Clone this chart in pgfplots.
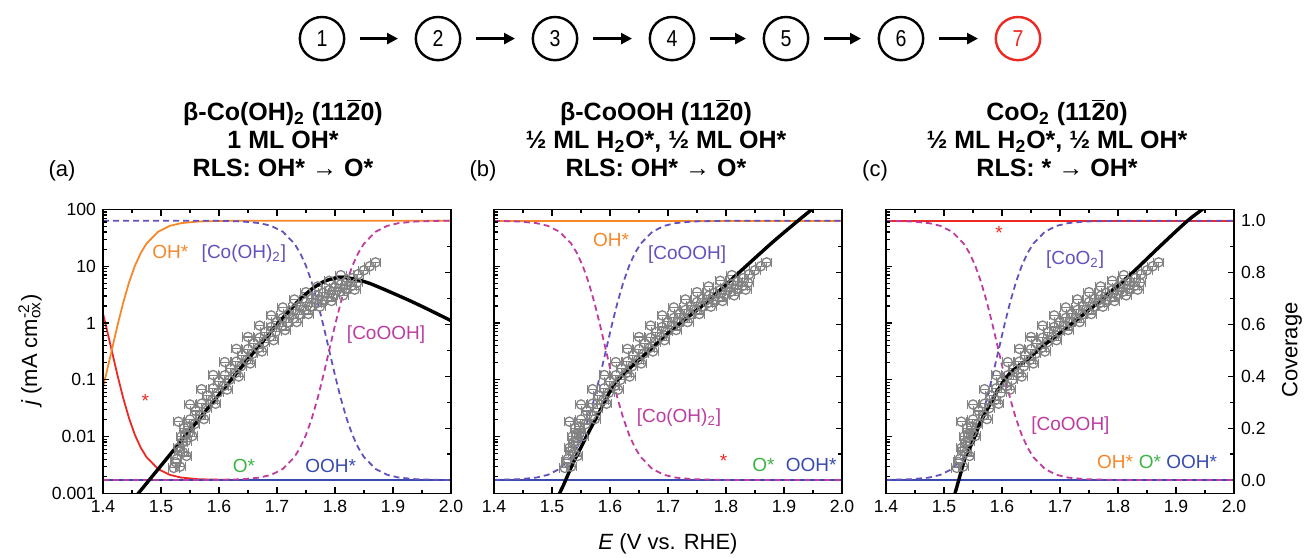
\documentclass[border=0pt]{standalone}
\usepackage{fontspec}
\setmainfont{Liberation Sans}
\newfontfamily\numfont[FakeStretch=0.85]{Liberation Sans}
\usepackage{pgfplots}
\usepackage{pgfplotstable}
\pgfplotsset{compat=1.18}
\usetikzlibrary{arrows.meta}

\definecolor{cOrange}{RGB}{247,135,40}
\definecolor{cRed}{RGB}{237,41,36}
\definecolor{cGreen}{RGB}{60,180,70}
\definecolor{cBlue}{RGB}{55,75,175}
\definecolor{cViolet}{RGB}{100,80,190}
\definecolor{cMag}{RGB}{190,60,160}
\definecolor{cGrey}{RGB}{130,130,130}
\newcommand\labfont{\fontsize{9.5}{11}\selectfont}

% experimental data (E in V vs RHE, j in mA cm^-2)
\pgfplotstableread{
E j
1.525 0.00355
1.530 0.00631
1.535 0.0100
1.540 0.0141
1.550 0.0200
1.560 0.0282
1.570 0.0380
1.580 0.0525
1.590 0.0708
1.600 0.0933
1.610 0.120
1.620 0.158
1.630 0.209
1.640 0.269
1.650 0.347
1.660 0.437
1.670 0.550
1.680 0.692
1.690 0.851
1.700 1.047
1.710 1.23
1.720 1.445
1.730 1.70
1.740 2.00
1.750 2.34
1.760 2.69
1.770 3.02
1.780 3.39
1.790 3.80
1.800 4.27
1.810 4.79
1.820 5.37
1.830 6.17
1.840 7.24
1.850 8.51
1.860 10.0
1.870 11.7
}\expA
\pgfplotstableread{
E j
1.533 0.00295
1.538 0.00524
1.543 0.0083
1.548 0.0117
1.558 0.0166
1.568 0.0234
1.578 0.0316
1.588 0.0436
1.598 0.0588
1.608 0.0775
1.618 0.0996
1.628 0.131
1.638 0.173
1.648 0.223
1.658 0.288
1.668 0.363
1.678 0.457
1.688 0.574
1.698 0.706
1.708 0.869
1.718 1.02
1.728 1.20
1.738 1.41
1.748 1.66
1.758 1.94
1.768 2.23
1.778 2.51
1.788 2.81
1.798 3.15
1.808 3.54
1.818 3.98
1.828 4.46
1.838 5.12
}\expB
\pgfplotstableread{
E j
1.522 0.0028
1.527 0.0040
1.532 0.0056
1.537 0.0079
1.542 0.0112
1.547 0.0150
1.530 0.0183
1.550 0.0367
1.570 0.0683
1.590 0.121
1.610 0.205
1.630 0.350
1.650 0.568
1.670 0.900
1.690 1.361
1.710 1.88
1.730 2.60
1.750 3.50
1.770 4.41
1.790 5.55
1.810 6.98
}\expC
\pgfplotstableread{
E j
1.544 0.00454
1.554 0.0102
1.574 0.0203
1.594 0.0378
1.614 0.0672
1.634 0.114
1.654 0.194
1.674 0.315
1.694 0.498
1.714 0.754
1.734 1.040
1.754 1.44
1.774 1.94
1.794 2.44
1.814 3.07
1.834 3.87
}\expD

% model current densities
\pgfplotstableread{
E j
1.455 0.00084
1.46 0.000971
1.50 0.003073
1.55 0.01296
1.60 0.05464
1.65 0.2304
1.70 0.937
1.72 1.600
1.74 2.618
1.76 3.963
1.78 5.33
1.80 6.19
1.82 6.27
1.84 5.75
1.86 4.98
1.88 4.10
1.90 3.35
1.93 2.45
1.96 1.75
2.00 1.10
}\modelA
\pgfplotstableread{
E j
1.510 0.00080
1.513 0.00100
1.520 0.00141
1.536 0.00335
1.550 0.00646
1.565 0.01297
1.580 0.0251
1.6046 0.0755
1.620 0.1175
1.650 0.224
1.680 0.427
1.707 0.759
1.7646 2.249
1.8217 7.62
1.879 25.8
1.922 60.7
1.955 115
}\modelB
\pgfplotstableread{
E j
1.516 0.00080
1.519 0.00100
1.527 0.00195
1.537 0.00437
1.550 0.0083
1.562 0.0170
1.580 0.0380
1.5966 0.0755
1.615 0.135
1.6426 0.224
1.670 0.389
1.700 0.664
1.7575 1.959
1.815 6.21
1.8724 22.5
1.921 64.7
1.955 118
}\modelC

\pgfplotsset{
  mypanel/.style={scale only axis, width=174pt, height=141.9pt,
    xmin=1.4, xmax=2.0, tick align=inside,
    major tick length=3.2pt, minor tick length=1.8pt,
    every tick/.style={black, line width=0.6pt},
    axis line style={line width=0.8pt},
    tick label style={font=\fontsize{8.8}{10}\selectfont}},
  mylogticks/.style={
    ytick={0.001,0.01,0.1,1,10,100},
    minor ytick={0.002,0.003,0.004,0.005,0.006,0.007,0.008,0.009,0.02,0.03,0.04,0.05,0.06,0.07,0.08,0.09,0.2,0.3,0.4,0.5,0.6,0.7,0.8,0.9,2,3,4,5,6,7,8,9,20,30,40,50,60,70,80,90},
    ytick pos=left,
    xtick={1.4,1.5,1.6,1.7,1.8,1.9,2.0},
    xticklabels={1.4,1.5,1.6,1.7,1.8,1.9,2.0},
    minor xtick={1.45,1.55,1.65,1.75,1.85,1.95}},
  mycov/.style={ymin=-0.0513, ymax=1.0432,
    axis y line*=right, axis x line=none,
    ytick={0,0.2,0.4,0.6,0.8,1.0}, minor ytick={0.1,0.3,0.5,0.7,0.9}},
}
\newcommand\expplot[1]{\addplot[only marks, mark=o, mark size=2.3pt, cGrey, mark options={line width=0.65pt, solid}, error bars/.cd, x dir=both, x fixed=0.009, error bar style={line width=0.55pt, cGrey}] table {#1};}

\begin{document}
\begin{tikzpicture}
\useasboundingbox (0,0) rectangle (653pt,278.5pt);

% reaction step scheme
\foreach \x/\n in {161/1,219/2,277.5/3,336/4,393/5,450.5/6}{
  \draw[line width=1.2pt] (\x pt,259.2pt) ellipse [x radius=11.1pt, y radius=10.8pt];
  \node[font=\numfont\fontsize{11.5}{13}\selectfont] at (\x pt,259.2pt) {\n};
}
\draw[line width=1.2pt, cRed] (509pt,259.2pt) ellipse [x radius=11.1pt, y radius=10.8pt];
\node[font=\numfont\fontsize{11.5}{13}\selectfont, text=cRed] at (509pt,259.2pt) {7};
\foreach \a/\b in {161/219,219/277.5,277.5/336,336/393,393/450.5,450.5/509}{
  \draw[line width=1.3pt, -{Triangle[length=5.5pt,width=5.5pt]}] (\a pt+19pt,259.2pt) -- (\b pt-20pt,259.2pt);
}

% titles
\begin{scope}[every node/.style={font=\bfseries\fontsize{12.5}{14}\selectfont, anchor=base}]
\node at (141.5pt,218pt) {β-Co(OH)\textsubscript{2} (11$\overline{\mbox{2}}$0)};
\node at (141.5pt,204pt) {1 ML OH*};
\node at (141.5pt,190pt) {RLS: OH* → O*};
\node at (328pt,218pt) {β-CoOOH (11$\overline{\mbox{2}}$0)};
\node at (328pt,204pt) {½ ML H\textsubscript{2}O*, ½ ML OH*};
\node at (328pt,190pt) {RLS: OH* → O*};
\node at (528.5pt,218pt) {CoO\textsubscript{2} (11$\overline{\mbox{2}}$0)};
\node at (528.5pt,204pt) {½ ML H\textsubscript{2}O*, ½ ML OH*};
\node at (528.5pt,190pt) {RLS: * → OH*};
\end{scope}
\node[font=\fontsize{11}{13}\selectfont, anchor=base] at (31pt,190pt) {(a)};
\node[font=\fontsize{11}{13}\selectfont, anchor=base] at (241.5pt,190pt) {(b)};
\node[font=\fontsize{11}{13}\selectfont, anchor=base] at (437.5pt,190pt) {(c)};

% axis labels
\node[rotate=90, font=\fontsize{11}{13}\selectfont] at (15pt,103.5pt) {\textit{j} (mA cm\rlap{\textsuperscript{-2}}\textsubscript{ox})};
\node[font=\fontsize{11}{13}\selectfont] at (334pt,6.5pt) {\textit{E} (V vs. RHE)};
\node[rotate=90, font=\fontsize{11}{13}\selectfont] at (646pt,103.5pt) {Coverage};

%%%%%%%% panel (a)
\begin{axis}[mypanel, mycov, at={(51.5pt,31.85pt)}, anchor=south west, yticklabels={,,,,,}]
\addplot[line width=0.9pt, cRed] coordinates {(1.4,0.642)(1.405,0.5961)(1.415,0.5)(1.425,0.4039)(1.435,0.3147)(1.445,0.2375)(1.455,0.174)(1.465,0.125)(1.475,0.0883)(1.495,0.0426)(1.515,0.02)(1.535,0.0093)(1.565,0.0029)(1.615,0.0004)(1.7,0)(2.0,0)};
\addplot[line width=0.9pt, cOrange] coordinates {(1.4,0.358)(1.405,0.4039)(1.415,0.5)(1.425,0.5961)(1.435,0.6853)(1.445,0.7625)(1.455,0.826)(1.465,0.875)(1.475,0.9117)(1.495,0.9574)(1.515,0.98)(1.535,0.9907)(1.565,0.9971)(1.615,0.9996)(1.7,1)(2.0,1)};
\addplot[line width=0.9pt, cGreen] coordinates {(1.4,0)(2.0,0)};
\addplot[line width=0.9pt, cBlue] coordinates {(1.4,0)(2.0,0)};
\addplot[line width=0.9pt, dash pattern=on 3pt off 2pt, cViolet] coordinates {(1.4,1)(1.55,1)(1.6,0.9995)(1.64,0.9971)(1.67,0.9907)(1.69,0.98)(1.71,0.9574)(1.73,0.9117)(1.74,0.875)(1.75,0.826)(1.76,0.7625)(1.77,0.6853)(1.78,0.5961)(1.79,0.5)(1.80,0.4039)(1.81,0.3147)(1.82,0.2375)(1.83,0.174)(1.84,0.125)(1.85,0.0883)(1.87,0.0426)(1.89,0.02)(1.91,0.0093)(1.94,0.0029)(1.98,0.0005)(2.0,0)};
\addplot[line width=0.9pt, dash pattern=on 3pt off 2pt, cMag] coordinates {(1.4,0)(1.55,0)(1.6,0.0005)(1.64,0.0029)(1.67,0.0093)(1.69,0.02)(1.71,0.0426)(1.73,0.0883)(1.74,0.125)(1.75,0.174)(1.76,0.2375)(1.77,0.3147)(1.78,0.4039)(1.79,0.5)(1.80,0.5961)(1.81,0.6853)(1.82,0.7625)(1.83,0.826)(1.84,0.875)(1.85,0.9117)(1.87,0.9574)(1.89,0.98)(1.91,0.9907)(1.94,0.9971)(1.98,0.9995)(2.0,1)};
\end{axis}
\begin{axis}[mypanel, ymode=log, ymin=0.001, ymax=100, mylogticks,
  at={(51.5pt,31.85pt)}, anchor=south west,
  yticklabels={0.001,0.01,0.1,1,10,100}]
\expplot{\expA}
\expplot{\expB}
\expplot{\expC}
\expplot{\expD}
\addplot[black, line width=1.7pt, smooth] table {\modelA};
\node[font=\labfont, text=cOrange] at (axis cs:1.516,17.6) {OH*};
\node[font=\labfont, text=cViolet] at (axis cs:1.643,17) {[Co(OH)\textsubscript{2}]};
\node[font=\labfont, text=cMag] at (axis cs:1.888,0.62) {[CoOOH]};
\node[font=\labfont, text=cRed] at (axis cs:1.473,0.043) {*};
\node[font=\labfont, text=cGreen] at (axis cs:1.643,0.003) {O*};
\node[font=\labfont, text=cBlue] at (axis cs:1.7925,0.003) {OOH*};
\end{axis}

%%%%%%%% panel (b)
\begin{axis}[mypanel, mycov, at={(247pt,31.85pt)}, anchor=south west, yticklabels={,,,,,}]
\addplot[line width=0.9pt, cRed] coordinates {(1.4,0)(2.0,0)};
\addplot[line width=0.9pt, cOrange] coordinates {(1.4,1)(2.0,1)};
\addplot[line width=0.9pt, cGreen] coordinates {(1.4,0)(2.0,0)};
\addplot[line width=0.9pt, cBlue] coordinates {(1.4,0)(2.0,0)};
\addplot[line width=0.9pt, dash pattern=on 3pt off 2pt, cMag] coordinates {(1.4,0.9994)(1.443,0.9971)(1.473,0.9907)(1.493,0.98)(1.513,0.9574)(1.533,0.9117)(1.543,0.875)(1.553,0.826)(1.563,0.7625)(1.573,0.6853)(1.583,0.5961)(1.593,0.5)(1.603,0.4039)(1.613,0.3147)(1.623,0.2375)(1.633,0.174)(1.643,0.125)(1.653,0.0883)(1.673,0.0426)(1.693,0.02)(1.713,0.0093)(1.743,0.0029)(1.8,0.0002)(2.0,0)};
\addplot[line width=0.9pt, dash pattern=on 3pt off 2pt, cViolet] coordinates {(1.4,0.0006)(1.443,0.0029)(1.473,0.0093)(1.493,0.02)(1.513,0.0426)(1.533,0.0883)(1.543,0.125)(1.553,0.174)(1.563,0.2375)(1.573,0.3147)(1.583,0.4039)(1.593,0.5)(1.603,0.5961)(1.613,0.6853)(1.623,0.7625)(1.633,0.826)(1.643,0.875)(1.653,0.9117)(1.673,0.9574)(1.693,0.98)(1.713,0.9907)(1.743,0.9971)(1.8,0.9998)(2.0,1)};
\end{axis}
\begin{axis}[mypanel, ymode=log, ymin=0.001, ymax=100, mylogticks,
  at={(247pt,31.85pt)}, anchor=south west, yticklabels={,,,,,}]
\expplot{\expA}
\expplot{\expB}
\expplot{\expC}
\expplot{\expD}
\addplot[black, line width=1.7pt, smooth] table {\modelB};
\node[font=\labfont, text=cOrange] at (axis cs:1.602,29.5) {OH*};
\node[font=\labfont, text=cViolet] at (axis cs:1.733,16) {[CoOOH]};
\node[font=\labfont, text=cMag] at (axis cs:1.719,0.0214) {[Co(OH)\textsubscript{2}]};
\node[font=\labfont, text=cRed] at (axis cs:1.796,0.0037) {*};
\node[font=\labfont, text=cGreen] at (axis cs:1.8646,0.0031) {O*};
\node[font=\labfont, text=cBlue] at (axis cs:1.947,0.0031) {OOH*};
\end{axis}

%%%%%%%% panel (c)
\begin{axis}[mypanel, mycov, at={(443pt,31.85pt)}, anchor=south west,
  yticklabels={0.0,0.2,0.4,0.6,0.8,1.0}]
\addplot[line width=0.9pt, cOrange] coordinates {(1.4,0)(2.0,0)};
\addplot[line width=0.9pt, cGreen] coordinates {(1.4,0)(2.0,0)};
\addplot[line width=0.9pt, cBlue] coordinates {(1.4,0)(2.0,0)};
\addplot[line width=0.9pt, cRed] coordinates {(1.4,1)(2.0,1)};
\addplot[line width=0.9pt, dash pattern=on 3pt off 2pt, cMag] coordinates {(1.4,0.9994)(1.444,0.9971)(1.474,0.9907)(1.494,0.98)(1.514,0.9574)(1.534,0.9117)(1.544,0.875)(1.554,0.826)(1.564,0.7625)(1.574,0.6853)(1.584,0.5961)(1.594,0.5)(1.604,0.4039)(1.614,0.3147)(1.624,0.2375)(1.634,0.174)(1.644,0.125)(1.654,0.0883)(1.674,0.0426)(1.694,0.02)(1.714,0.0093)(1.744,0.0029)(1.8,0.0002)(2.0,0)};
\addplot[line width=0.9pt, dash pattern=on 3pt off 2pt, cViolet] coordinates {(1.4,0.0006)(1.444,0.0029)(1.474,0.0093)(1.494,0.02)(1.514,0.0426)(1.534,0.0883)(1.544,0.125)(1.554,0.174)(1.564,0.2375)(1.574,0.3147)(1.584,0.4039)(1.594,0.5)(1.604,0.5961)(1.614,0.6853)(1.624,0.7625)(1.634,0.826)(1.644,0.875)(1.654,0.9117)(1.674,0.9574)(1.694,0.98)(1.714,0.9907)(1.744,0.9971)(1.8,0.9998)(2.0,1)};
\end{axis}
\begin{axis}[mypanel, ymode=log, ymin=0.001, ymax=100, mylogticks,
  at={(443pt,31.85pt)}, anchor=south west, yticklabels={,,,,,}]
\expplot{\expA}
\expplot{\expB}
\expplot{\expC}
\expplot{\expD}
\addplot[black, line width=1.7pt, smooth] table {\modelC};
\node[font=\labfont, text=cRed] at (axis cs:1.595,38.7) {*};
\node[font=\labfont, text=cViolet] at (axis cs:1.726,13.1) {[CoO\textsubscript{2}]};
\node[font=\labfont, text=cMag] at (axis cs:1.718,0.0158) {[CoOOH]};
\node[font=\labfont, text=cOrange] at (axis cs:1.795,0.00357) {OH*};
\node[font=\labfont, text=cGreen] at (axis cs:1.855,0.00357) {O*};
\node[font=\labfont, text=cBlue] at (axis cs:1.927,0.00357) {OOH*};
\end{axis}
\end{tikzpicture}
\end{document}
